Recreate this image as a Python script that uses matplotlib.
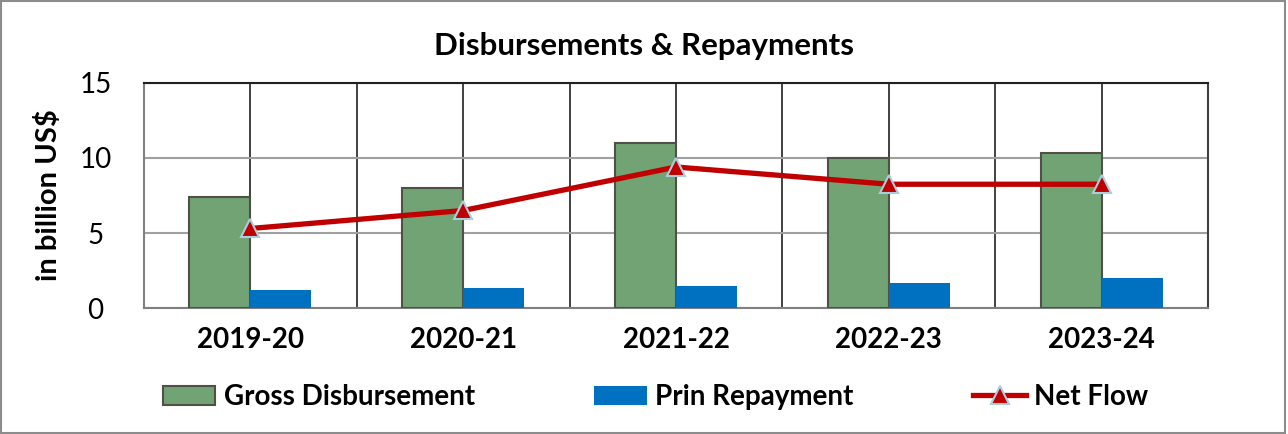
import numpy as np
import matplotlib.pyplot as plt
from matplotlib.patches import Rectangle

# data
years = ["2019-20", "2020-21", "2021-22", "2022-23", "2023-24"]
gross = [7.4, 8.0, 11.0, 10.0, 10.3]
prin = [1.2, 1.35, 1.5, 1.7, 2.0]
net = [5.3, 6.5, 9.4, 8.25, 8.25]

plt.rcParams["font.family"] = ["Lato", "DejaVu Sans"]

fig = plt.figure(figsize=(12.88, 4.34), dpi=100)
ax = fig.add_axes([0.1118, 0.2903, 0.8261, 0.5185])

x = np.arange(len(years))
w = 0.287

b1 = ax.bar(x - w / 2, gross, w, color="#71A375", edgecolor="#4F5146", linewidth=1.5,
            label="Gross Disbursement", zorder=3)
b2 = ax.bar(x + w / 2, prin, w, color="#0070C0", linewidth=0,
            label="Prin Repayment", zorder=3)
l1, = ax.plot(x, net, color="#C00000", linewidth=3.8, marker="^", markersize=13,
              markerfacecolor="#C00000", markeredgecolor="#A9CFDC", markeredgewidth=1.5,
              label="Net Flow", zorder=4)

ax.set_xlim(-0.5, len(years) - 0.5)
ax.set_ylim(0, 15)
ax.set_yticks([0, 5, 10, 15])
ax.set_xticks(x)
ax.set_xticks(np.arange(-0.5, len(years), 1.0), minor=True)
ax.set_xticklabels(years, fontsize=20, fontweight="bold")
ax.tick_params(axis="y", labelsize=20, length=0, pad=35)
ax.tick_params(axis="x", which="both", length=0, pad=14)
for t in ax.get_yticklabels():
    t.set_horizontalalignment("center")

ax.grid(axis="y", color="#A0A0A0", linewidth=1.5, zorder=0)
ax.grid(axis="x", which="both", color="#333333", linewidth=1.3, zorder=0)

ax.spines["left"].set_color("#808080")
ax.spines["bottom"].set_color("#808080")
ax.spines["top"].set_color("#202020")
ax.spines["right"].set_color("#404040")
for s in ax.spines.values():
    s.set_linewidth(1.5)

ax.set_ylabel("in billion US$", fontsize=21, fontweight="bold")
ax.yaxis.set_label_coords(-0.077, 0.5)
fig.text(0.5, 0.895, "Disbursements & Repayments", fontsize=22.5, fontweight="bold",
         ha="center", va="center")

fig.legend([b1, b2, l1], ["Gross Disbursement", "Prin Repayment", "Net Flow"],
           loc="center", bbox_to_anchor=(0.509, 0.085), ncol=3, frameon=False,
           prop={"size": 20, "weight": "bold"}, columnspacing=4.3,
           handlelength=1.9, handletextpad=0.3)

fig.patches.append(Rectangle((0.001, 0.002), 0.997, 0.995, transform=fig.transFigure,
                             fill=False, edgecolor="#8C8C8C", linewidth=1.5))

fig.savefig("out.png", dpi=100)
